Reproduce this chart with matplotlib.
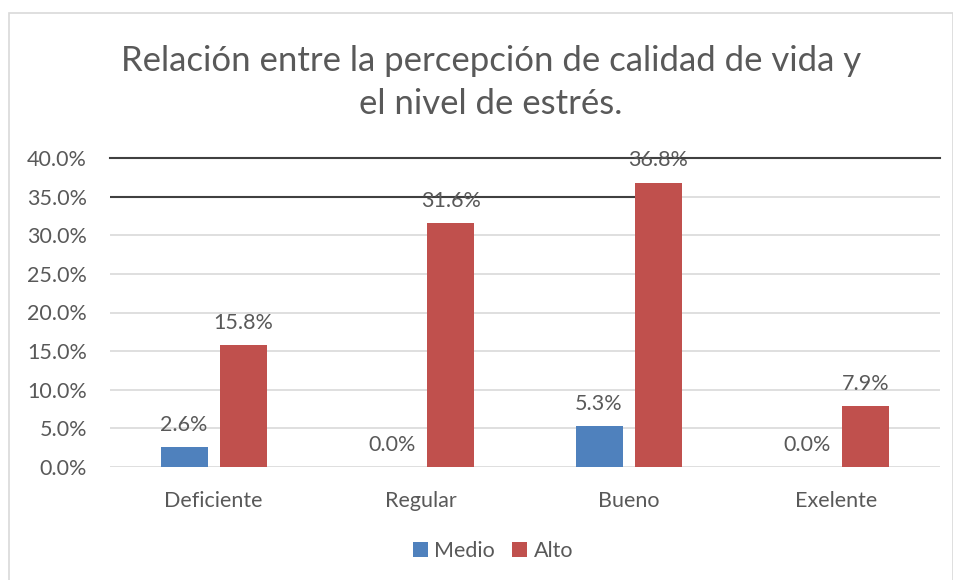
import numpy as np
import matplotlib
matplotlib.use("Agg")
import matplotlib.pyplot as plt
from matplotlib.patches import Rectangle

# datos
categorias = ["Deficiente", "Regular", "Bueno", "Exelente"]
medio = [2.6, 0.0, 5.3, 0.0]
alto = [15.8, 31.6, 36.8, 7.9]
ticks_y = [0, 5, 10, 15, 20, 25, 30, 35, 40]

azul = "#4F81BD"
rojo = "#C0504D"
gris_txt = "#595959"

plt.rcParams["font.family"] = ["Lato", "DejaVu Sans"]

fig = plt.figure(figsize=(9.54, 5.8), dpi=100)
# marco del grafico
fig.patches.append(Rectangle((9 / 954, -0.01), 0.999 - 9 / 954, 1 - 13 / 580 + 0.01,
                             transform=fig.transFigure, fill=False,
                             edgecolor="#D9D9D9", linewidth=1.2))

ax = fig.add_axes([110 / 954, 1 - 467 / 580, 830 / 954, 309 / 580])

x = np.arange(len(categorias))
ancho = 0.227
desp = 0.143

b1 = ax.bar(x - desp, medio, ancho, color=azul, label="Medio", zorder=3)
b2 = ax.bar(x + desp, alto, ancho, color=rojo, label="Alto", zorder=3)

for barras, vals in ((b1, medio), (b2, alto)):
    for b, v in zip(barras, vals):
        ax.annotate(f"{v:.1f}%", (b.get_x() + b.get_width() / 2, v),
                    xytext=(0, 16), textcoords="offset points",
                    ha="center", va="center", fontsize=15.5, color=gris_txt, zorder=5)

ax.set_xlim(-0.5, 3.5)
ax.set_ylim(0, 40)
ax.set_yticks(ticks_y)
ax.set_yticklabels([f"{t:.1f}%" for t in ticks_y])
ax.set_xticks(x)
ax.set_xticklabels(categorias)
ax.tick_params(axis="both", length=0, labelsize=15.5, labelcolor=gris_txt)
ax.tick_params(axis="y", pad=16.5)
ax.tick_params(axis="x", pad=17.5)
for s in ax.spines.values():
    s.set_visible(False)

# lineas de cuadricula
for t in ticks_y:
    ax.axhline(t, color="#D9D9D9", linewidth=1.2, zorder=1)
# lineas negras que aparecen en la imagen original
ax.plot([-0.5, 3.5], [40, 40], color="#404040", linewidth=1.5, zorder=4, clip_on=False)
ax.plot([-0.5, 2.03], [35, 35], color="#404040", linewidth=1.5, zorder=2)

fig.text(491 / 954, 1 - 61 / 580, "Relación entre la percepción de calidad de vida y",
         ha="center", va="center", fontsize=25, color=gris_txt)
fig.text(491 / 954, 1 - 104 / 580, "el nivel de estrés.",
         ha="center", va="center", fontsize=25, color=gris_txt)

ax.legend(loc="center", bbox_to_anchor=((493 - 110) / 830, (467 - 551) / 309),
          bbox_transform=ax.transAxes,
          ncol=2, frameon=False, fontsize=15.5, labelcolor=gris_txt,
          handlelength=0.7, handleheight=0.7, handletextpad=0.3, columnspacing=0.8)

fig.savefig("out.png", dpi=100)
